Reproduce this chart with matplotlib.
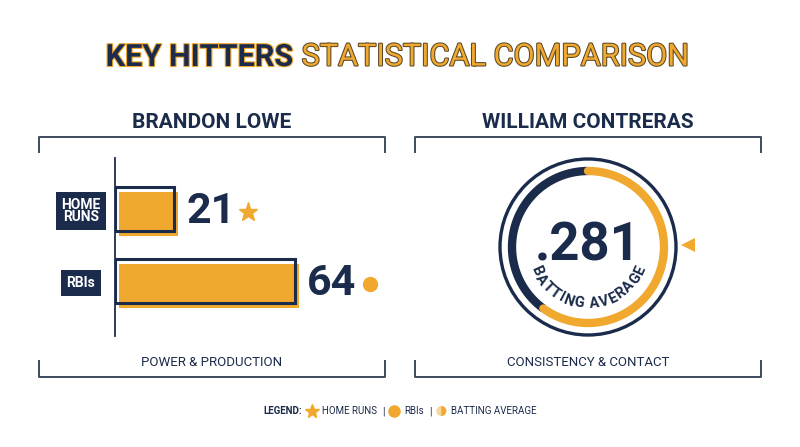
import matplotlib
matplotlib.use("Agg")
import matplotlib.pyplot as plt
import matplotlib.patheffects as pe
import matplotlib.transforms as mtrans
from matplotlib.patches import Circle, Wedge, Polygon
import numpy as np

NAVY = "#1b2b4b"
GOLD = "#f0a82e"
LINE = "#3e4a5e"
FONT = ["Roboto", "DejaVu Sans"]
plt.rcParams["font.family"] = FONT

# ---- data ----
title_dark = "KEY HITTERS"
title_gold = "STATISTICAL COMPARISON"
players = ["BRANDON LOWE", "WILLIAM CONTRERAS"]
captions = ["POWER & PRODUCTION", "CONSISTENCY & CONTACT"]

lowe_stats = ["HOME\nRUNS", "RBIs"]
lowe_values = [21, 64]
lowe_icons = ["*", "o"]

contreras_avg = 0.281
avg_arc_share = 0.60      # part of the ring drawn in gold
ring_label = "BATTING AVERAGE"

legend_labels = ["HOME RUNS", "RBIs", "BATTING AVERAGE"]
legend_icons = ["*", "o", "half"]

fig = plt.figure(figsize=(8, 4.47), dpi=100)
fig.patch.set_facecolor("white")
renderer = fig.canvas.get_renderer()

# background axes in pixel units (y down)
bg = fig.add_axes([0, 0, 1, 1])
bg.set_xlim(0, 800)
bg.set_ylim(447, 0)
bg.axis("off")


def text_width(s, **kw):
    t = bg.text(0, 0, s, **kw)
    w = t.get_window_extent(renderer=renderer).width
    t.remove()
    return w


# ---- title (sized to span the same width as the original) ----
dark_kw = dict(weight="bold", color=NAVY,
               path_effects=[pe.withStroke(linewidth=1.6, foreground=GOLD)])
gold_kw = dict(weight="normal", color=GOLD,
               path_effects=[pe.withStroke(linewidth=1.5, foreground="#5a4a2a")])
gap = 8
span = text_width(title_dark, fontsize=20, **dark_kw) + text_width(title_gold, fontsize=20, **gold_kw)
fs = 20 * (583 - gap) / span
w1 = text_width(title_dark, fontsize=fs, **dark_kw)
w2 = text_width(title_gold, fontsize=fs, **gold_kw)
x0 = 397 - (w1 + gap + w2) / 2
bg.text(x0, 57, title_dark, ha="left", va="center", fontsize=fs, **dark_kw)
bg.text(x0 + w1 + gap, 57, title_gold, ha="left", va="center", fontsize=fs, **gold_kw)

# ---- panel frames ----
for (xl, xr), name, cap in zip([(39, 385), (415, 761)], players, captions):
    bg.plot([xl, xl, xr, xr], [152, 137, 137, 152], color=LINE, lw=1.4)
    bg.plot([xl, xl, xr, xr], [361, 377, 377, 361], color=LINE, lw=1.4)
    bg.text((xl + xr) / 2, 122, name, ha="center", va="center",
            fontsize=15, weight="bold", color=NAVY)
    bg.text((xl + xr) / 2, 363, cap, ha="center", va="center",
            fontsize=9.5, color=NAVY)

# ---- Brandon Lowe bars ----
bar_ax = fig.add_axes([115 / 800, 1 - 336 / 447, 200 / 800, 178 / 447])
bar_ax.set_facecolor("none")
pos = np.arange(len(lowe_values))
shifted = mtrans.offset_copy(bar_ax.transData, fig=fig, x=4, y=-5, units="dots")
bar_ax.barh(pos, lowe_values, height=0.6, color=GOLD, transform=shifted, zorder=2)
bar_ax.barh(pos, lowe_values, height=0.6, facecolor="none", edgecolor=NAVY,
            lw=2.2, zorder=3)
bar_ax.set_xlim(0, 71)
bar_ax.set_ylim(1.764, -0.708)
for s in ["top", "right", "bottom"]:
    bar_ax.spines[s].set_visible(False)
bar_ax.spines["left"].set_color(NAVY)
bar_ax.spines["left"].set_linewidth(1.3)
bar_ax.set_xticks([])
bar_ax.set_yticks([])

value_texts = []
for i, (lab, v) in enumerate(zip(lowe_stats, lowe_values)):
    bar_ax.annotate(lab, xy=(0, i), xytext=(-34, -2), textcoords="offset pixels",
                    ha="center", va="center", fontsize=10, weight="bold",
                    color="white", linespacing=0.9,
                    bbox=dict(boxstyle="square,pad=0.4", fc=NAVY, ec="none"))
    t = bar_ax.annotate(str(v), xy=(v, i), xytext=(12, -3), textcoords="offset pixels",
                        ha="left", va="center", fontsize=31, weight="bold",
                        color=NAVY)
    value_texts.append(t)

fig.canvas.draw()
for t, icon, size in zip(value_texts, lowe_icons, [14, 10]):
    bb = t.get_window_extent(renderer=renderer)
    bg.plot(bb.x1 + 13, 447 - (bb.y0 + bb.y1) / 2, marker=icon, ms=size,
            color=GOLD, mec=GOLD)

# ---- William Contreras ring ----
cx, cy = 588, 247
ring_ax = fig.add_axes([(cx - 110) / 800, (447 - cy - 110) / 447, 220 / 800, 220 / 447])
ring_ax.set_xlim(-110, 110)
ring_ax.set_ylim(-110, 110)
ring_ax.axis("off")
ring_ax.add_patch(Circle((0, 0), 88, fill=False, ec=NAVY, lw=2.4))
r_arc = 76
gold_end = 90 - avg_arc_share * 360
th_navy = np.radians(np.linspace(90, gold_end + 360, 200))
th_gold = np.radians(np.linspace(90, gold_end, 200))
ring_ax.plot(r_arc * np.cos(th_navy), r_arc * np.sin(th_navy), color=NAVY,
             lw=6, solid_capstyle="butt")
ring_ax.plot(r_arc * np.cos(th_gold), r_arc * np.sin(th_gold), color=GOLD,
             lw=6, solid_capstyle="round")
ring_ax.text(0, 1, f"{contreras_avg:.3f}".lstrip("0"), ha="center", va="center",
             fontsize=38, weight="bold", color=NAVY)

# curved label along the bottom of the ring
arc_kw = dict(fontsize=10.5, weight="bold", color=NAVY)
widths = [text_width(ch, **arc_kw) if ch != " " else 4 for ch in ring_label]
track = 0.6
total = sum(widths) + track * (len(widths) - 1)
r_txt = 57
ang = -90 - np.degrees(total / 2 / r_txt)
for ch, w in zip(ring_label, widths):
    a = ang + np.degrees((w / 2) / r_txt)
    ring_ax.text(r_txt * np.cos(np.radians(a)), r_txt * np.sin(np.radians(a)), ch,
                 rotation=a + 90, rotation_mode="anchor", ha="center", va="center",
                 **arc_kw)
    ang += np.degrees((w + track) / r_txt)

bg.add_patch(Polygon([(681, 245), (695, 238), (695, 252)], closed=True,
                     color=GOLD, lw=0))

# ---- legend row ----
leg_kw = dict(fontsize=7, color=NAVY)
head_kw = dict(fontsize=7, color=NAVY, weight="bold")
parts = [("text", "LEGEND:", head_kw)]
for k, (icon, lab) in enumerate(zip(legend_icons, legend_labels)):
    parts.append(("icon", icon, None))
    parts.append(("text", lab, leg_kw))
    if k < len(legend_labels) - 1:
        parts.append(("text", "|", leg_kw))
sizes = [text_width(p[1], **p[2]) if p[0] == "text" else 10 for p in parts]
space = 5
row_w = sum(sizes) + space * (len(sizes) - 1)
x = 400 - row_w / 2
ly = 411
for (kind, val, kw), w in zip(parts, sizes):
    if kind == "text":
        bg.text(x, ly, val, ha="left", va="center", **kw)
    elif val == "half":
        bg.add_patch(Circle((x + 5, ly), 5, color="#f6d7a0", lw=0))
        bg.add_patch(Wedge((x + 5, ly), 5, -90, 90, color=GOLD, lw=0))
    else:
        bg.plot(x + 5, ly, marker=val, ms=10 if val == "*" else 8, color=GOLD, mec=GOLD)
    x += w + space

fig.savefig("out.png", dpi=100, facecolor="white")
